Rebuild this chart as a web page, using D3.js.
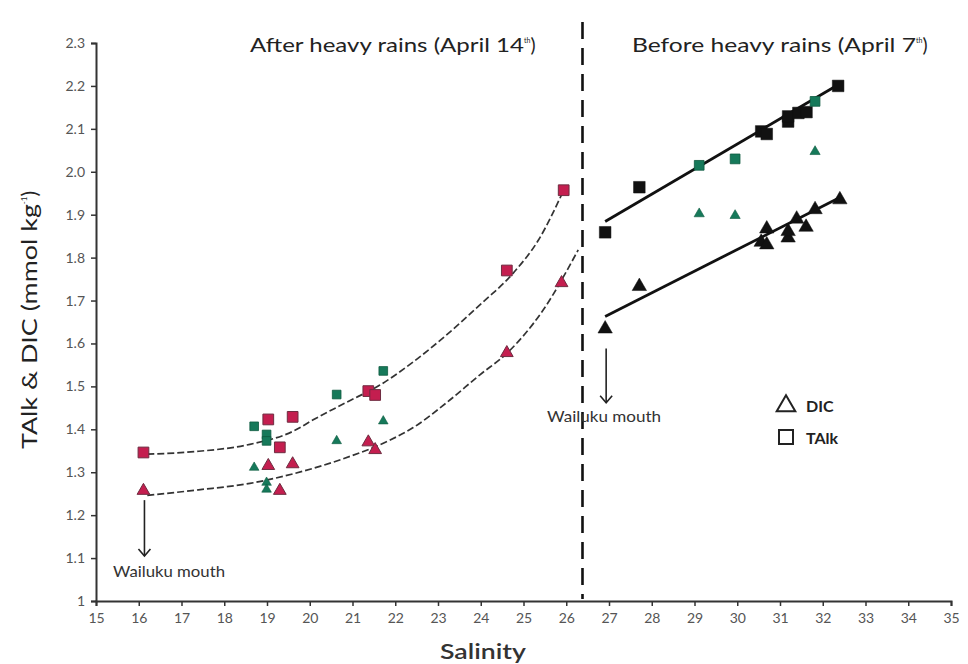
<!DOCTYPE html>
<html><head><meta charset="utf-8">
<script src="https://cdn.jsdelivr.net/npm/d3@7"></script>
<style>
html,body{margin:0;padding:0;background:#fff;}
svg{display:block;font-family:Lato,"Open Sans",sans-serif;}
</style></head>
<body><svg id="c" width="968" height="664"></svg>
<script>
// ---- data (salinity, mmol/kg) ----
const xTicks = [15,16,17,18,19,20,21,22,23,24,25,26,27,28,29,30,31,32,33,34,35];
const yTicks = [1,1.1,1.2,1.3,1.4,1.5,1.6,1.7,1.8,1.9,2.0,2.1,2.2,2.3];
const yTickLabels = ["1","1.1","1.2","1.3","1.4","1.5","1.6","1.7","1.8","1.9","2.0","2.1","2.2","2.3"];

// After heavy rains (April 14th)
const afterTalkMaroon = [[16.11,1.346],[19.03,1.423],[19.30,1.358],[19.60,1.429],[21.37,1.489],[21.53,1.480],[24.61,1.770],[25.94,1.957]];
const afterTalkGreen  = [[18.70,1.407],[18.99,1.388],[18.99,1.373],[20.63,1.481],[21.72,1.536]];
const afterDicMaroon  = [[16.11,1.257],[19.03,1.315],[19.30,1.257],[19.60,1.319],[21.37,1.370],[21.53,1.352],[24.61,1.578],[25.89,1.741]];
const afterDicGreen   = [[18.70,1.311],[18.99,1.276],[18.99,1.260],[20.63,1.373],[21.72,1.419]];
// fitted curves
const afterTalkFit = [[16.2,1.342],[17.3,1.348],[18.6,1.365],[19.6,1.395],[20.08,1.422],[20.86,1.463],[21.64,1.503],[22.42,1.557],[23.2,1.62],[23.98,1.69],[24.76,1.764],[25.35,1.841],[25.94,1.957]];
const afterDicFit  = [[16.2,1.246],[17.4,1.259],[18.6,1.274],[19.6,1.296],[20.8,1.332],[21.88,1.375],[22.42,1.404],[23.2,1.462],[23.98,1.527],[24.61,1.577],[25.46,1.678],[26.28,1.818]];

// Before heavy rains (April 7th)
const beforeTalkBlack = [[26.91,1.859],[27.71,1.964],[30.56,2.094],[30.69,2.088],[31.19,2.117],[31.19,2.129],[31.43,2.137],[31.62,2.139],[32.36,2.200]];
const beforeTalkGreen = [[29.11,2.015],[29.95,2.030],[31.82,2.164]];
const beforeDicBlack  = [[26.91,1.634],[27.71,1.733],[30.56,1.836],[30.69,1.830],[30.69,1.867],[31.19,1.846],[31.19,1.861],[31.39,1.890],[31.61,1.871],[31.82,1.912],[32.40,1.935]];
const beforeDicGreen  = [[29.11,1.902],[29.95,1.898],[31.82,2.047]];
const beforeTalkFit = [[26.91,1.884],[32.40,2.205]];
const beforeDicFit  = [[26.91,1.663],[32.40,1.940]];

const dividerSalinity = 26.38;
const mouthAfter = [16.11, 1.235, 1.105];
const mouthBefore = [26.91, 1.588, 1.462];

// ---- drawing ----
const svg = d3.select("#c");
const x = d3.scaleLinear().domain([15,35]).range([96,951]);
const y = d3.scaleLinear().domain([1,2.3]).range([601,43]);

const MAROON = "#c41e4f", MAROON_S = "#6e2c40", GREEN = "#16795a", BLACK = "#111";

// axes
const gx = svg.append("g").attr("transform",`translate(0,${y(1)})`)
  .call(d3.axisBottom(x).tickValues(xTicks).tickSize(5).tickPadding(7).tickFormat(d3.format("d")));
const gy = svg.append("g").attr("transform",`translate(${x(15)},0)`)
  .call(d3.axisLeft(y).tickValues(yTicks).tickSize(5).tickPadding(6).tickFormat((d,i)=>yTickLabels[i]));
[gx,gy].forEach(g=>{
  g.select(".domain").attr("stroke","#333").attr("stroke-width",2);
  g.selectAll(".tick line").attr("stroke","#333").attr("stroke-width",1.5);
  g.selectAll(".tick text").attr("fill","#555").attr("font-size",14).attr("font-family","Lato,sans-serif");
});

// vertical divider
svg.append("line").attr("x1",x(dividerSalinity)).attr("x2",x(dividerSalinity))
  .attr("y1",22).attr("y2",y(1)-2).attr("stroke","#111").attr("stroke-width",2.6)
  .attr("stroke-dasharray","17,9");

// fitted lines
const line = d3.line().x(d=>x(d[0])).y(d=>y(d[1])).curve(d3.curveMonotoneX);
[afterTalkFit, afterDicFit].forEach(f=>{
  svg.append("path").attr("d",line(f)).attr("fill","none").attr("stroke","#333")
    .attr("stroke-width",1.7).attr("stroke-dasharray","7,3");
});
const sline = d3.line().x(d=>x(d[0])).y(d=>y(d[1]));
[beforeTalkFit, beforeDicFit].forEach(f=>{
  svg.append("path").attr("d",sline(f)).attr("fill","none").attr("stroke",BLACK).attr("stroke-width",2.8);
});

// markers
const sym = (type,size)=>d3.symbol().type(type).size(size)();
function pts(data,type,size,fill,stroke,sw){
  svg.append("g").selectAll("path").data(data).join("path")
    .attr("d",sym(type,size)).attr("transform",d=>`translate(${x(d[0])},${y(d[1])})`)
    .attr("fill",fill).attr("stroke",stroke).attr("stroke-width",sw);
}
pts(afterTalkMaroon,d3.symbolSquare,115,MAROON,MAROON_S,1);
pts(afterTalkGreen,d3.symbolSquare,75,GREEN,"#0e5a40",0.8);
pts(afterDicMaroon,d3.symbolTriangle,70,MAROON,MAROON_S,1);
pts(afterDicGreen,d3.symbolTriangle,40,GREEN,"#0e5a40",0.6);
pts(beforeTalkBlack,d3.symbolSquare,135,BLACK,BLACK,0.5);
pts(beforeTalkGreen,d3.symbolSquare,95,GREEN,"#0e5a40",0.8);
pts(beforeDicBlack,d3.symbolTriangle,90,BLACK,BLACK,0.5);
pts(beforeDicGreen,d3.symbolTriangle,45,GREEN,"#0e5a40",0.6);

// arrows
[mouthAfter,mouthBefore].forEach(m=>{
  svg.append("line").attr("x1",x(m[0])+1).attr("x2",x(m[0])+1).attr("y1",y(m[1])).attr("y2",y(m[2]))
    .attr("stroke","#222").attr("stroke-width",1.6);
  svg.append("path").attr("d",`M${x(m[0])-5},${y(m[2])-7} L${x(m[0])+1},${y(m[2])} L${x(m[0])+7},${y(m[2])-7}`)
    .attr("fill","none").attr("stroke","#222").attr("stroke-width",1.6);
});
svg.append("text").attr("x",113).attr("y",577).attr("font-size",15).attr("fill","#333")
  .attr("textLength",112).attr("lengthAdjust","spacingAndGlyphs").text("Wailuku mouth");
svg.append("text").attr("x",547).attr("y",422).attr("font-size",15).attr("fill","#333")
  .attr("textLength",114).attr("lengthAdjust","spacingAndGlyphs").text("Wailuku mouth");

// titles
function title(xp,w,main,sup){
  const t = svg.append("text").attr("x",xp).attr("y",52).attr("font-size",19).attr("fill","#222");
  t.append("tspan").attr("textLength",w-16).attr("lengthAdjust","spacingAndGlyphs").text(main);
  t.append("tspan").attr("font-size",7).attr("dy",-9).text(sup);
  t.append("tspan").attr("dy",9).text(")");
}
title(250,290,"After heavy rains (April 14","th");
title(632,300,"Before heavy rains (April 7","th");

// legend
svg.append("path").attr("d",sym(d3.symbolTriangle,150)).attr("transform","translate(786,406)")
  .attr("fill","none").attr("stroke","#222").attr("stroke-width",2);
svg.append("text").attr("x",806).attr("y",412).attr("font-size",16).attr("font-weight","bold").attr("fill","#222").text("DIC");
svg.append("rect").attr("x",779).attr("y",430).attr("width",14).attr("height",14)
  .attr("fill","none").attr("stroke","#222").attr("stroke-width",2);
svg.append("text").attr("x",806).attr("y",444).attr("font-size",16).attr("font-weight","bold").attr("fill","#222").text("TAlk");

// axis titles
const yt = svg.append("text").attr("transform","translate(37,320) rotate(-90)").attr("text-anchor","middle")
  .attr("font-size",21).attr("fill","#222");
yt.append("tspan").attr("textLength",245).attr("lengthAdjust","spacingAndGlyphs").text("TAlk & DIC (mmol kg");
yt.append("tspan").attr("font-size",8).attr("dy",-10).text("-1");
yt.append("tspan").attr("dy",10).text(")");
svg.append("text").attr("x",483).attr("y",659).attr("text-anchor","middle").attr("font-size",21)
  .attr("font-weight","600").attr("fill","#333").attr("textLength",86).attr("lengthAdjust","spacingAndGlyphs").text("Salinity");
</script></body></html>
